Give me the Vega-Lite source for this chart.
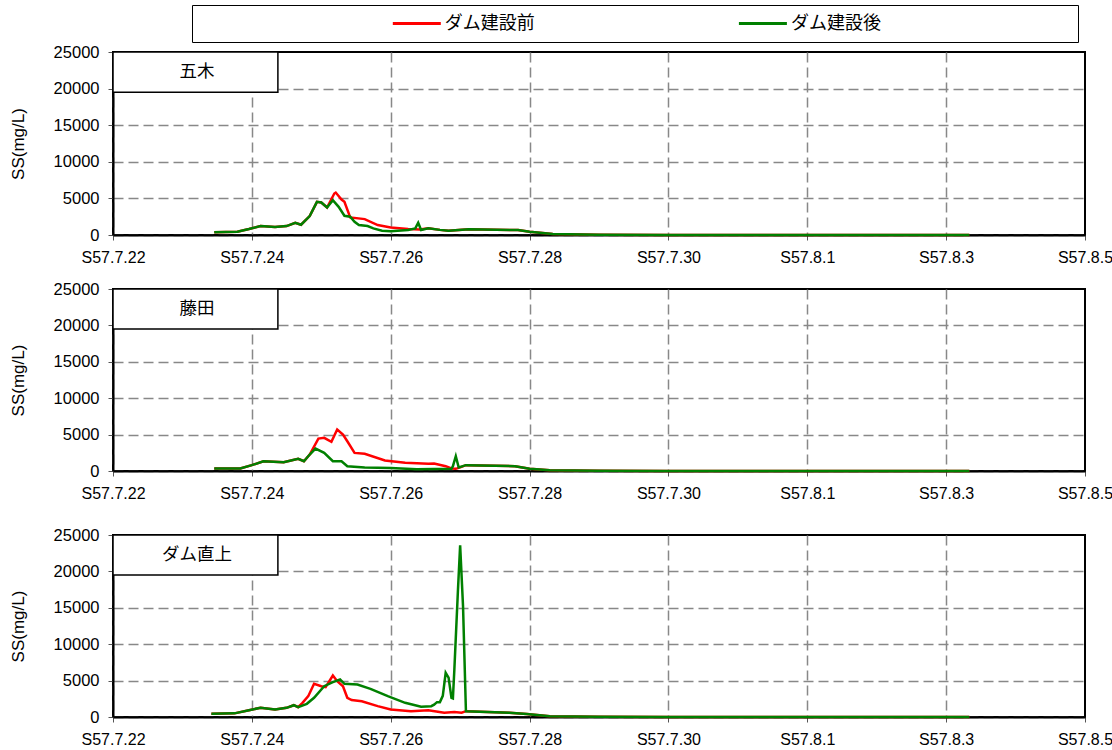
{
  "$schema": "https://vega.github.io/schema/vega-lite/v6.json",
  "padding": {"left": 8, "top": 4, "right": 0, "bottom": 0},
  "background": "white",
  "config": {
    "font": "Liberation Sans, Noto Sans CJK JP",
    "view": {"stroke": "black", "strokeWidth": 2},
    "axis": {
      "domainColor": "black", "domainWidth": 2,
      "tickColor": "#555", "tickSize": 5, "tickWidth": 1,
      "labelFont": "Liberation Sans", "labelFontSize": 16, "labelColor": "black",
      "gridColor": "#888", "gridDash": [10, 5], "gridWidth": 1.5,
      "titleFont": "Liberation Sans", "titleFontWeight": "normal", "titleFontSize": 17, "titleColor": "black"
    },
    "axisY": {"labelPadding": 9, "titlePadding": 26, "labelFontSize": 16.5, "labelOverlap": false, "grid": true, "format": "d", "values": [0, 5000, 10000, 15000, 20000, 25000]},
    "axisX": {"labelPadding": 9, "labelOverlap": false, "labelFlush": false, "grid": true}
  },
  "datasets": {
    "ss": [
      {"site":"五木","series":"ダム建設前","time":"1982-07-23T11:00","ss":370},
      {"site":"五木","series":"ダム建設前","time":"1982-07-23T19:00","ss":450},
      {"site":"五木","series":"ダム建設前","time":"1982-07-23T23:00","ss":815},
      {"site":"五木","series":"ダム建設前","time":"1982-07-24T03:00","ss":1220},
      {"site":"五木","series":"ダム建設前","time":"1982-07-24T08:00","ss":1090},
      {"site":"五木","series":"ダム建設前","time":"1982-07-24T12:00","ss":1220},
      {"site":"五木","series":"ダム建設前","time":"1982-07-24T15:00","ss":1670},
      {"site":"五木","series":"ダム建設前","time":"1982-07-24T17:00","ss":1400},
      {"site":"五木","series":"ダム建設前","time":"1982-07-24T20:00","ss":2580},
      {"site":"五木","series":"ダム建設前","time":"1982-07-24T22:30","ss":4530},
      {"site":"五木","series":"ダム建設前","time":"1982-07-25T00:00","ss":4440},
      {"site":"五木","series":"ダム建設前","time":"1982-07-25T02:00","ss":3760},
      {"site":"五木","series":"ダム建設前","time":"1982-07-25T04:30","ss":5670},
      {"site":"五木","series":"ダム建設前","time":"1982-07-25T05:00","ss":5800},
      {"site":"五木","series":"ダム建設前","time":"1982-07-25T07:00","ss":4850},
      {"site":"五木","series":"ダム建設前","time":"1982-07-25T08:00","ss":4530},
      {"site":"五木","series":"ダム建設前","time":"1982-07-25T10:00","ss":2400},
      {"site":"五木","series":"ダム建設前","time":"1982-07-25T15:00","ss":2170},
      {"site":"五木","series":"ダム建設前","time":"1982-07-25T19:30","ss":1360},
      {"site":"五木","series":"ダム建設前","time":"1982-07-26T00:00","ss":1040},
      {"site":"五木","series":"ダム建設前","time":"1982-07-26T06:00","ss":815},
      {"site":"五木","series":"ダム建設前","time":"1982-07-26T10:00","ss":760},
      {"site":"五木","series":"ダム建設前","time":"1982-07-26T13:00","ss":910},
      {"site":"五木","series":"ダム建設前","time":"1982-07-26T17:00","ss":700},
      {"site":"五木","series":"ダム建設前","time":"1982-07-26T20:00","ss":590},
      {"site":"五木","series":"ダム建設前","time":"1982-07-27T03:00","ss":770},
      {"site":"五木","series":"ダム建設前","time":"1982-07-27T20:00","ss":680},
      {"site":"五木","series":"ダム建設前","time":"1982-07-28T00:00","ss":450},
      {"site":"五木","series":"ダム建設前","time":"1982-07-28T08:00","ss":136},
      {"site":"五木","series":"ダム建設前","time":"1982-07-29T00:00","ss":40},
      {"site":"五木","series":"ダム建設前","time":"1982-07-30T00:00","ss":15},
      {"site":"五木","series":"ダム建設前","time":"1982-08-03T08:00","ss":10},

      {"site":"五木","series":"ダム建設後","time":"1982-07-23T11:00","ss":370},
      {"site":"五木","series":"ダム建設後","time":"1982-07-23T19:00","ss":450},
      {"site":"五木","series":"ダム建設後","time":"1982-07-23T23:00","ss":815},
      {"site":"五木","series":"ダム建設後","time":"1982-07-24T03:00","ss":1220},
      {"site":"五木","series":"ダム建設後","time":"1982-07-24T08:00","ss":1090},
      {"site":"五木","series":"ダム建設後","time":"1982-07-24T12:00","ss":1220},
      {"site":"五木","series":"ダム建設後","time":"1982-07-24T15:00","ss":1670},
      {"site":"五木","series":"ダム建設後","time":"1982-07-24T17:00","ss":1400},
      {"site":"五木","series":"ダム建設後","time":"1982-07-24T20:00","ss":2580},
      {"site":"五木","series":"ダム建設後","time":"1982-07-24T22:30","ss":4530},
      {"site":"五木","series":"ダム建設後","time":"1982-07-25T00:00","ss":4440},
      {"site":"五木","series":"ダム建設後","time":"1982-07-25T02:00","ss":3760},
      {"site":"五木","series":"ダム建設後","time":"1982-07-25T04:00","ss":4760},
      {"site":"五木","series":"ダム建設後","time":"1982-07-25T06:00","ss":3850},
      {"site":"五木","series":"ダム建設後","time":"1982-07-25T08:00","ss":2630},
      {"site":"五木","series":"ダム建設後","time":"1982-07-25T10:00","ss":2500},
      {"site":"五木","series":"ダム建設後","time":"1982-07-25T11:30","ss":1810},
      {"site":"五木","series":"ダム建設後","time":"1982-07-25T13:00","ss":1360},
      {"site":"五木","series":"ダム建設後","time":"1982-07-25T16:00","ss":1220},
      {"site":"五木","series":"ダム建設後","time":"1982-07-25T18:00","ss":910},
      {"site":"五木","series":"ダム建設後","time":"1982-07-25T21:00","ss":590},
      {"site":"五木","series":"ダム建設後","time":"1982-07-26T00:00","ss":500},
      {"site":"五木","series":"ダム建設後","time":"1982-07-26T06:00","ss":680},
      {"site":"五木","series":"ダム建設後","time":"1982-07-26T08:30","ss":900},
      {"site":"五木","series":"ダム建設後","time":"1982-07-26T09:30","ss":1670},
      {"site":"五木","series":"ダム建設後","time":"1982-07-26T10:30","ss":680},
      {"site":"五木","series":"ダム建設後","time":"1982-07-26T13:00","ss":910},
      {"site":"五木","series":"ダム建設後","time":"1982-07-26T17:00","ss":700},
      {"site":"五木","series":"ダム建設後","time":"1982-07-26T20:00","ss":590},
      {"site":"五木","series":"ダム建設後","time":"1982-07-27T03:00","ss":770},
      {"site":"五木","series":"ダム建設後","time":"1982-07-27T20:00","ss":680},
      {"site":"五木","series":"ダム建設後","time":"1982-07-28T00:00","ss":450},
      {"site":"五木","series":"ダム建設後","time":"1982-07-28T08:00","ss":136},
      {"site":"五木","series":"ダム建設後","time":"1982-07-29T00:00","ss":40},
      {"site":"五木","series":"ダム建設後","time":"1982-07-30T00:00","ss":15},
      {"site":"五木","series":"ダム建設後","time":"1982-08-03T08:00","ss":10},

      {"site":"藤田","series":"ダム建設前","time":"1982-07-23T11:00","ss":340},
      {"site":"藤田","series":"ダム建設前","time":"1982-07-23T20:00","ss":340},
      {"site":"藤田","series":"ダム建設前","time":"1982-07-24T00:00","ss":800},
      {"site":"藤田","series":"ダム建設前","time":"1982-07-24T04:00","ss":1340},
      {"site":"藤田","series":"ダム建設前","time":"1982-07-24T11:00","ss":1210},
      {"site":"藤田","series":"ダム建設前","time":"1982-07-24T16:00","ss":1670},
      {"site":"藤田","series":"ダム建設前","time":"1982-07-24T18:00","ss":1340},
      {"site":"藤田","series":"ダム建設前","time":"1982-07-24T20:00","ss":2260},
      {"site":"藤田","series":"ダム建設前","time":"1982-07-24T23:00","ss":4450},
      {"site":"藤田","series":"ダム建設前","time":"1982-07-25T01:00","ss":4550},
      {"site":"藤田","series":"ダム建設前","time":"1982-07-25T03:30","ss":4000},
      {"site":"藤田","series":"ダム建設前","time":"1982-07-25T05:30","ss":5690},
      {"site":"藤田","series":"ダム建設前","time":"1982-07-25T07:30","ss":5000},
      {"site":"藤田","series":"ダム建設前","time":"1982-07-25T09:00","ss":4080},
      {"site":"藤田","series":"ダム建設前","time":"1982-07-25T11:30","ss":2490},
      {"site":"藤田","series":"ダム建設前","time":"1982-07-25T15:00","ss":2360},
      {"site":"藤田","series":"ダム建設前","time":"1982-07-25T22:00","ss":1440},
      {"site":"藤田","series":"ダム建設前","time":"1982-07-26T05:00","ss":1120},
      {"site":"藤田","series":"ダム建設前","time":"1982-07-26T13:00","ss":990},
      {"site":"藤田","series":"ダム建設前","time":"1982-07-26T15:00","ss":1040},
      {"site":"藤田","series":"ダム建設前","time":"1982-07-26T19:00","ss":660},
      {"site":"藤田","series":"ダム建設前","time":"1982-07-26T21:00","ss":340},
      {"site":"藤田","series":"ダム建設前","time":"1982-07-26T22:30","ss":300},
      {"site":"藤田","series":"ダム建設前","time":"1982-07-27T00:00","ss":500},
      {"site":"藤田","series":"ダム建設前","time":"1982-07-27T02:00","ss":800},
      {"site":"藤田","series":"ダム建設前","time":"1982-07-27T19:00","ss":660},
      {"site":"藤田","series":"ダム建設前","time":"1982-07-28T00:00","ss":300},
      {"site":"藤田","series":"ダム建設前","time":"1982-07-28T07:00","ss":100},
      {"site":"藤田","series":"ダム建設前","time":"1982-07-29T00:00","ss":30},
      {"site":"藤田","series":"ダム建設前","time":"1982-07-30T00:00","ss":10},
      {"site":"藤田","series":"ダム建設前","time":"1982-08-03T08:00","ss":5},

      {"site":"藤田","series":"ダム建設後","time":"1982-07-23T11:00","ss":340},
      {"site":"藤田","series":"ダム建設後","time":"1982-07-23T20:00","ss":340},
      {"site":"藤田","series":"ダム建設後","time":"1982-07-24T00:00","ss":800},
      {"site":"藤田","series":"ダム建設後","time":"1982-07-24T04:00","ss":1340},
      {"site":"藤田","series":"ダム建設後","time":"1982-07-24T11:00","ss":1210},
      {"site":"藤田","series":"ダム建設後","time":"1982-07-24T16:00","ss":1670},
      {"site":"藤田","series":"ダム建設後","time":"1982-07-24T18:00","ss":1340},
      {"site":"藤田","series":"ダム建設後","time":"1982-07-24T20:00","ss":2260},
      {"site":"藤田","series":"ダム建設後","time":"1982-07-24T22:00","ss":3080},
      {"site":"藤田","series":"ダム建設後","time":"1982-07-25T01:00","ss":2490},
      {"site":"藤田","series":"ダム建設後","time":"1982-07-25T04:00","ss":1340},
      {"site":"藤田","series":"ダム建設後","time":"1982-07-25T07:00","ss":1340},
      {"site":"藤田","series":"ダム建設後","time":"1982-07-25T09:00","ss":660},
      {"site":"藤田","series":"ダム建設後","time":"1982-07-25T15:00","ss":480},
      {"site":"藤田","series":"ダム建設後","time":"1982-07-26T00:00","ss":400},
      {"site":"藤田","series":"ダム建設後","time":"1982-07-26T09:00","ss":250},
      {"site":"藤田","series":"ダム建設後","time":"1982-07-26T21:00","ss":300},
      {"site":"藤田","series":"ダム建設後","time":"1982-07-26T21:30","ss":660},
      {"site":"藤田","series":"ダム建設後","time":"1982-07-26T22:30","ss":2030},
      {"site":"藤田","series":"ダム建設後","time":"1982-07-26T23:30","ss":480},
      {"site":"藤田","series":"ダム建設後","time":"1982-07-27T02:00","ss":800},
      {"site":"藤田","series":"ダム建設後","time":"1982-07-27T19:00","ss":660},
      {"site":"藤田","series":"ダム建設後","time":"1982-07-28T00:00","ss":300},
      {"site":"藤田","series":"ダム建設後","time":"1982-07-28T07:00","ss":100},
      {"site":"藤田","series":"ダム建設後","time":"1982-07-29T00:00","ss":30},
      {"site":"藤田","series":"ダム建設後","time":"1982-07-30T00:00","ss":10},
      {"site":"藤田","series":"ダム建設後","time":"1982-08-03T08:00","ss":5},

      {"site":"ダム直上","series":"ダム建設前","time":"1982-07-23T10:00","ss":440},
      {"site":"ダム直上","series":"ダム建設前","time":"1982-07-23T18:00","ss":500},
      {"site":"ダム直上","series":"ダム建設前","time":"1982-07-23T23:00","ss":940},
      {"site":"ダム直上","series":"ダム建設前","time":"1982-07-24T03:00","ss":1260},
      {"site":"ダム直上","series":"ダム建設前","time":"1982-07-24T08:00","ss":1030},
      {"site":"ダム直上","series":"ダム建設前","time":"1982-07-24T12:00","ss":1260},
      {"site":"ダム直上","series":"ダム建設前","time":"1982-07-24T14:30","ss":1620},
      {"site":"ダム直上","series":"ダム建設前","time":"1982-07-24T16:00","ss":1350},
      {"site":"ダム直上","series":"ダム建設前","time":"1982-07-24T17:30","ss":1950},
      {"site":"ダム直上","series":"ダム建設前","time":"1982-07-24T19:30","ss":2860},
      {"site":"ダム直上","series":"ダム建設前","time":"1982-07-24T21:30","ss":4560},
      {"site":"ダム直上","series":"ダム建設前","time":"1982-07-25T00:00","ss":4230},
      {"site":"ダム直上","series":"ダム建設前","time":"1982-07-25T01:30","ss":4100},
      {"site":"ダム直上","series":"ダム建設前","time":"1982-07-25T04:00","ss":5700},
      {"site":"ダム直上","series":"ダム建設前","time":"1982-07-25T05:30","ss":4920},
      {"site":"ダム直上","series":"ダム建設前","time":"1982-07-25T07:30","ss":4230},
      {"site":"ダム直上","series":"ダム建設前","time":"1982-07-25T09:00","ss":2640},
      {"site":"ダム直上","series":"ダム建設前","time":"1982-07-25T10:30","ss":2320},
      {"site":"ダム直上","series":"ダム建設前","time":"1982-07-25T14:00","ss":2170},
      {"site":"ダム直上","series":"ダム建設前","time":"1982-07-25T19:30","ss":1490},
      {"site":"ダム直上","series":"ダム建設前","time":"1982-07-26T00:00","ss":1030},
      {"site":"ダム直上","series":"ダム建設前","time":"1982-07-26T07:00","ss":800},
      {"site":"ダム直上","series":"ダム建設前","time":"1982-07-26T13:00","ss":940},
      {"site":"ダム直上","series":"ダム建設前","time":"1982-07-26T18:30","ss":580},
      {"site":"ダム直上","series":"ダム建設前","time":"1982-07-26T22:00","ss":670},
      {"site":"ダム直上","series":"ダム建設前","time":"1982-07-27T00:30","ss":580},
      {"site":"ダム直上","series":"ダム建設前","time":"1982-07-27T02:00","ss":800},
      {"site":"ダム直上","series":"ダム建設前","time":"1982-07-27T17:00","ss":580},
      {"site":"ダム直上","series":"ダム建設前","time":"1982-07-27T23:00","ss":400},
      {"site":"ダム直上","series":"ダム建設前","time":"1982-07-28T07:00","ss":100},
      {"site":"ダム直上","series":"ダム建設前","time":"1982-07-29T00:00","ss":30},
      {"site":"ダム直上","series":"ダム建設前","time":"1982-07-30T00:00","ss":10},
      {"site":"ダム直上","series":"ダム建設前","time":"1982-08-03T08:00","ss":5},

      {"site":"ダム直上","series":"ダム建設後","time":"1982-07-23T10:00","ss":440},
      {"site":"ダム直上","series":"ダム建設後","time":"1982-07-23T18:00","ss":500},
      {"site":"ダム直上","series":"ダム建設後","time":"1982-07-23T23:00","ss":940},
      {"site":"ダム直上","series":"ダム建設後","time":"1982-07-24T03:00","ss":1260},
      {"site":"ダム直上","series":"ダム建設後","time":"1982-07-24T08:00","ss":1030},
      {"site":"ダム直上","series":"ダム建設後","time":"1982-07-24T12:00","ss":1260},
      {"site":"ダム直上","series":"ダム建設後","time":"1982-07-24T14:30","ss":1620},
      {"site":"ダム直上","series":"ダム建設後","time":"1982-07-24T16:00","ss":1350},
      {"site":"ダム直上","series":"ダム建設後","time":"1982-07-24T19:00","ss":1810},
      {"site":"ダム直上","series":"ダム建設後","time":"1982-07-24T21:30","ss":2640},
      {"site":"ダム直上","series":"ダム建設後","time":"1982-07-25T01:00","ss":4230},
      {"site":"ダム直上","series":"ダム建設後","time":"1982-07-25T04:00","ss":4780},
      {"site":"ダム直上","series":"ダム建設後","time":"1982-07-25T06:30","ss":5150},
      {"site":"ダム直上","series":"ダム建設後","time":"1982-07-25T08:00","ss":4560},
      {"site":"ダム直上","series":"ダム建設後","time":"1982-07-25T12:30","ss":4470},
      {"site":"ダム直上","series":"ダム建設後","time":"1982-07-25T17:00","ss":3870},
      {"site":"ダム直上","series":"ダム建設後","time":"1982-07-25T23:00","ss":2860},
      {"site":"ダム直上","series":"ダム建設後","time":"1982-07-26T05:00","ss":1950},
      {"site":"ダム直上","series":"ダム建設後","time":"1982-07-26T10:30","ss":1400},
      {"site":"ダム直上","series":"ダム建設後","time":"1982-07-26T14:00","ss":1490},
      {"site":"ダム直上","series":"ダム建設後","time":"1982-07-26T15:00","ss":1700},
      {"site":"ダム直上","series":"ダム建設後","time":"1982-07-26T16:00","ss":2040},
      {"site":"ダム直上","series":"ダム建設後","time":"1982-07-26T17:00","ss":2040},
      {"site":"ダム直上","series":"ダム建設後","time":"1982-07-26T18:00","ss":2900},
      {"site":"ダム直上","series":"ダム建設後","time":"1982-07-26T19:00","ss":6070},
      {"site":"ダム直上","series":"ダム建設後","time":"1982-07-26T20:00","ss":5400},
      {"site":"ダム直上","series":"ダム建設後","time":"1982-07-26T21:00","ss":2640},
      {"site":"ダム直上","series":"ダム建設後","time":"1982-07-26T21:30","ss":2550},
      {"site":"ダム直上","series":"ダム建設後","time":"1982-07-26T22:00","ss":6500},
      {"site":"ダム直上","series":"ダム建設後","time":"1982-07-26T23:15","ss":17500},
      {"site":"ダム直上","series":"ダム建設後","time":"1982-07-27T00:00","ss":23600},
      {"site":"ダム直上","series":"ダム建設後","time":"1982-07-27T01:00","ss":15200},
      {"site":"ダム直上","series":"ダム建設後","time":"1982-07-27T02:00","ss":800},
      {"site":"ダム直上","series":"ダム建設後","time":"1982-07-27T17:00","ss":580},
      {"site":"ダム直上","series":"ダム建設後","time":"1982-07-27T23:00","ss":400},
      {"site":"ダム直上","series":"ダム建設後","time":"1982-07-28T07:00","ss":100},
      {"site":"ダム直上","series":"ダム建設後","time":"1982-07-29T00:00","ss":30},
      {"site":"ダム直上","series":"ダム建設後","time":"1982-07-30T00:00","ss":10},
      {"site":"ダム直上","series":"ダム建設後","time":"1982-08-03T08:00","ss":5}
    ]
  },
  "spacing": 14,
  "vconcat": [
    {
      "spacing": 0,
      "vconcat": [
        {
          "spacing": 0,
          "hconcat": [
            {
              "width": 78, "height": 37,
              "view": {"stroke": null},
              "data": {"values": []},
              "mark": "point",
              "encoding": {}
            },
            {
              "width": 886, "height": 37,
              "view": {"stroke": "black", "strokeWidth": 1},
              "data": {"values": [{"series": "ダム建設前"}, {"series": "ダム建設後"}]},
              "encoding": {
                "x": {"field": "series", "type": "nominal", "scale": {"type": "point", "domain": ["ダム建設前", "ダム建設後"], "padding": 0.78, "align": 0.509}, "axis": null}
              },
              "layer": [
                {
                  "mark": {"type": "rule", "strokeWidth": 3, "xOffset": -74, "x2Offset": -26},
                  "encoding": {
                    "x2": {"field": "series"},
                    "color": {"field": "series", "type": "nominal", "scale": {"domain": ["ダム建設前", "ダム建設後"], "range": ["#ff0000", "#008000"]}, "legend": null}
                  }
                },
                {
                  "mark": {"type": "text", "align": "left", "baseline": "middle", "dx": -22, "font": "Noto Sans CJK JP", "fontSize": 18, "color": "black"},
                  "encoding": {"text": {"field": "series"}}
                }
              ]
            }
          ]
        },
        {
          "width": 972, "height": 183,
          "encoding": {
            "x": {"type": "temporal", "scale": {"domain": [{"year": 1982, "month": 7, "date": 22}, {"year": 1982, "month": 8, "date": 5}]}, "axis": {"title": null, "gridOpacity": {"condition": {"test": "time(datum.value) >= time(datetime(1982, 7, 5))", "value": 0}, "value": 1}, "values": [{"year": 1982, "month": 7, "date": 22}, {"year": 1982, "month": 7, "date": 24}, {"year": 1982, "month": 7, "date": 26}, {"year": 1982, "month": 7, "date": 28}, {"year": 1982, "month": 7, "date": 30}, {"year": 1982, "month": 8, "date": 1}, {"year": 1982, "month": 8, "date": 3}, {"year": 1982, "month": 8, "date": 5}], "labelExpr": "'S57.' + (month(datum.value) + 1) + '.' + date(datum.value)"}},
            "y": {"type": "quantitative", "scale": {"domain": [0, 25000], "nice": false}, "axis": {"title": "SS(mg/L)", "gridOpacity": {"condition": {"test": "datum.value >= 25000", "value": 0}, "value": 1}}}
          },
          "layer": [
            {
              "data": {"name": "ss"},
              "transform": [{"filter": {"and": [{"field": "site", "equal": "五木"}, {"field": "series", "equal": "ダム建設前"}]}}],
              "mark": {"type": "line", "strokeWidth": 2.5},
              "encoding": {
                "x": {"field": "time"},
                "y": {"field": "ss"},
                "color": {"field": "series", "type": "nominal", "scale": {"domain": ["ダム建設前", "ダム建設後"], "range": ["#ff0000", "#008000"]}, "legend": null}
              }
            },
            {
              "data": {"name": "ss"},
              "transform": [{"filter": {"and": [{"field": "site", "equal": "五木"}, {"field": "series", "equal": "ダム建設後"}]}}],
              "mark": {"type": "line", "strokeWidth": 2.5},
              "encoding": {
                "x": {"field": "time"},
                "y": {"field": "ss"},
                "color": {"field": "series", "type": "nominal", "legend": null}
              }
            },
            {
              "data": {"values": [{"site": "五木"}]},
              "mark": {"type": "rect", "fill": "white", "stroke": "black", "strokeWidth": 1.5},
              "encoding": {
                "x": {"datum": {"year": 1982, "month": 7, "date": 22}},
                "x2": {"datum": {"year": 1982, "month": 7, "date": 24, "hours": 9}},
                "y": {"datum": 25000},
                "y2": {"datum": 19500}
              }
            },
            {
              "data": {"values": [{"site": "五木"}]},
              "mark": {"type": "text", "font": "Noto Sans CJK JP", "fontSize": 17.5, "color": "black"},
              "encoding": {
                "x": {"datum": {"year": 1982, "month": 7, "date": 23, "hours": 5}},
                "y": {"datum": 22250},
                "text": {"field": "site"}
              }
            }
          ]
        }
      ]
    },
    {
      "spacing": 24,
      "vconcat": [
        {
          "width": 972, "height": 182,
          "encoding": {
            "x": {"type": "temporal", "scale": {"domain": [{"year": 1982, "month": 7, "date": 22}, {"year": 1982, "month": 8, "date": 5}]}, "axis": {"title": null, "gridOpacity": {"condition": {"test": "time(datum.value) >= time(datetime(1982, 7, 5))", "value": 0}, "value": 1}, "values": [{"year": 1982, "month": 7, "date": 22}, {"year": 1982, "month": 7, "date": 24}, {"year": 1982, "month": 7, "date": 26}, {"year": 1982, "month": 7, "date": 28}, {"year": 1982, "month": 7, "date": 30}, {"year": 1982, "month": 8, "date": 1}, {"year": 1982, "month": 8, "date": 3}, {"year": 1982, "month": 8, "date": 5}], "labelExpr": "'S57.' + (month(datum.value) + 1) + '.' + date(datum.value)"}},
            "y": {"type": "quantitative", "scale": {"domain": [0, 25000], "nice": false}, "axis": {"title": "SS(mg/L)", "gridOpacity": {"condition": {"test": "datum.value >= 25000", "value": 0}, "value": 1}}}
          },
          "layer": [
            {
              "data": {"name": "ss"},
              "transform": [{"filter": {"and": [{"field": "site", "equal": "藤田"}, {"field": "series", "equal": "ダム建設前"}]}}],
              "mark": {"type": "line", "strokeWidth": 2.5},
              "encoding": {
                "x": {"field": "time"},
                "y": {"field": "ss"},
                "color": {"field": "series", "type": "nominal", "scale": {"domain": ["ダム建設前", "ダム建設後"], "range": ["#ff0000", "#008000"]}, "legend": null}
              }
            },
            {
              "data": {"name": "ss"},
              "transform": [{"filter": {"and": [{"field": "site", "equal": "藤田"}, {"field": "series", "equal": "ダム建設後"}]}}],
              "mark": {"type": "line", "strokeWidth": 2.5},
              "encoding": {
                "x": {"field": "time"},
                "y": {"field": "ss"},
                "color": {"field": "series", "type": "nominal", "legend": null}
              }
            },
            {
              "data": {"values": [{"site": "藤田"}]},
              "mark": {"type": "rect", "fill": "white", "stroke": "black", "strokeWidth": 1.5},
              "encoding": {
                "x": {"datum": {"year": 1982, "month": 7, "date": 22}},
                "x2": {"datum": {"year": 1982, "month": 7, "date": 24, "hours": 9}},
                "y": {"datum": 25000},
                "y2": {"datum": 19500}
              }
            },
            {
              "data": {"values": [{"site": "藤田"}]},
              "mark": {"type": "text", "font": "Noto Sans CJK JP", "fontSize": 17.5, "color": "black"},
              "encoding": {
                "x": {"datum": {"year": 1982, "month": 7, "date": 23, "hours": 5}},
                "y": {"datum": 22250},
                "text": {"field": "site"}
              }
            }
          ]
        },
        {
          "width": 972, "height": 182,
          "encoding": {
            "x": {"type": "temporal", "scale": {"domain": [{"year": 1982, "month": 7, "date": 22}, {"year": 1982, "month": 8, "date": 5}]}, "axis": {"title": null, "gridOpacity": {"condition": {"test": "time(datum.value) >= time(datetime(1982, 7, 5))", "value": 0}, "value": 1}, "values": [{"year": 1982, "month": 7, "date": 22}, {"year": 1982, "month": 7, "date": 24}, {"year": 1982, "month": 7, "date": 26}, {"year": 1982, "month": 7, "date": 28}, {"year": 1982, "month": 7, "date": 30}, {"year": 1982, "month": 8, "date": 1}, {"year": 1982, "month": 8, "date": 3}, {"year": 1982, "month": 8, "date": 5}], "labelExpr": "'S57.' + (month(datum.value) + 1) + '.' + date(datum.value)"}},
            "y": {"type": "quantitative", "scale": {"domain": [0, 25000], "nice": false}, "axis": {"title": "SS(mg/L)", "gridOpacity": {"condition": {"test": "datum.value >= 25000", "value": 0}, "value": 1}}}
          },
          "layer": [
            {
              "data": {"name": "ss"},
              "transform": [{"filter": {"and": [{"field": "site", "equal": "ダム直上"}, {"field": "series", "equal": "ダム建設前"}]}}],
              "mark": {"type": "line", "strokeWidth": 2.5},
              "encoding": {
                "x": {"field": "time"},
                "y": {"field": "ss"},
                "color": {"field": "series", "type": "nominal", "scale": {"domain": ["ダム建設前", "ダム建設後"], "range": ["#ff0000", "#008000"]}, "legend": null}
              }
            },
            {
              "data": {"name": "ss"},
              "transform": [{"filter": {"and": [{"field": "site", "equal": "ダム直上"}, {"field": "series", "equal": "ダム建設後"}]}}],
              "mark": {"type": "line", "strokeWidth": 2.5},
              "encoding": {
                "x": {"field": "time"},
                "y": {"field": "ss"},
                "color": {"field": "series", "type": "nominal", "legend": null}
              }
            },
            {
              "data": {"values": [{"site": "ダム直上"}]},
              "mark": {"type": "rect", "fill": "white", "stroke": "black", "strokeWidth": 1.5},
              "encoding": {
                "x": {"datum": {"year": 1982, "month": 7, "date": 22}},
                "x2": {"datum": {"year": 1982, "month": 7, "date": 24, "hours": 9}},
                "y": {"datum": 25000},
                "y2": {"datum": 19500}
              }
            },
            {
              "data": {"values": [{"site": "ダム直上"}]},
              "mark": {"type": "text", "font": "Noto Sans CJK JP", "fontSize": 17.5, "color": "black"},
              "encoding": {
                "x": {"datum": {"year": 1982, "month": 7, "date": 23, "hours": 5}},
                "y": {"datum": 22250},
                "text": {"field": "site"}
              }
            }
          ]
        }
      ]
    }
  ]
}
